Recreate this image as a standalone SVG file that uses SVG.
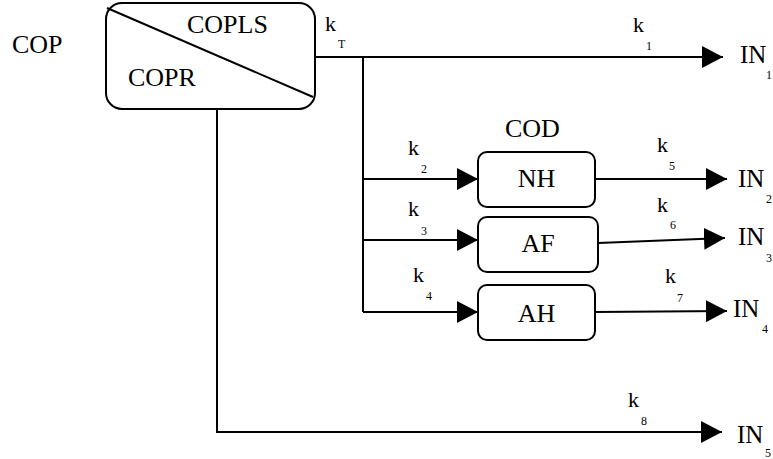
<svg xmlns="http://www.w3.org/2000/svg" width="773" height="459" viewBox="0 0 773 459">
  <style>
    text { font-family: "Liberation Serif", "DejaVu Serif", "Noto Serif", "Times New Roman", serif; fill: #000; }
    .big { font-size: 26px; }
    .in { font-size: 25px; }
    .k { font-size: 22px; }
    .s { font-size: 12px; }
    .box { fill: #fff; stroke: #000; stroke-width: 2; }
    .ln { fill: none; stroke: #000; stroke-width: 2; }
  </style>
  <defs>
    <marker id="arr" viewBox="0 0 21 22" refX="21" refY="11" markerWidth="21" markerHeight="22" markerUnits="userSpaceOnUse" orient="auto">
      <path d="M0,0 L21,11 L0,22 z" fill="#000"/>
    </marker>
  </defs>

  <g id="connectors">
    <path class="ln" d="M315,57 H723" marker-end="url(#arr)"/>
    <path class="ln" d="M363,57 V312"/>
    <path class="ln" d="M363,179 H478" marker-end="url(#arr)"/>
    <path class="ln" d="M363,240 H478" marker-end="url(#arr)"/>
    <path class="ln" d="M363,312 H478" marker-end="url(#arr)"/>
    <path class="ln" d="M595,179 H727" marker-end="url(#arr)"/>
    <path class="ln" d="M598,243 L725,238" marker-end="url(#arr)"/>
    <path class="ln" d="M595,312 L727,311" marker-end="url(#arr)"/>
    <path class="ln" d="M217,109 V432 H722" marker-end="url(#arr)"/>
  </g>

  <g id="cop-label">
    <text class="big" x="12" y="53" font-family="Liberation Serif, serif">COP</text>
  </g>

  <g id="cop">
    <rect class="box" x="106" y="3" width="209" height="106" rx="16"/>
    <line class="ln" x1="107" y1="8" x2="313" y2="97" stroke-width="1.3"/>
    <text class="big" x="187" y="33">COPLS</text>
    <text class="big" x="128" y="86">COPR</text>
  </g>

  <g id="cod-label">
    <text class="big" x="505" y="137">COD</text>
  </g>

  <g id="nh">
    <rect class="box" x="478" y="152" width="117" height="55" rx="9"/>
    <text class="big" x="536.5" y="187" text-anchor="middle">NH</text>
  </g>
  <g id="af">
    <rect class="box" x="478" y="217" width="120" height="55" rx="9"/>
    <text class="big" x="538" y="252" text-anchor="middle">AF</text>
  </g>
  <g id="ah">
    <rect class="box" x="478" y="285" width="117" height="55" rx="9"/>
    <text class="big" x="536.5" y="322" text-anchor="middle">AH</text>
  </g>

  <g id="labels">
    <text class="k" x="325" y="31">k</text><text class="s" x="338" y="48">T</text>
    <text class="k" x="633" y="32">k</text><text class="s" x="646" y="50">1</text>
    <text class="k" x="408" y="155">k</text><text class="s" x="421" y="173">2</text>
    <text class="k" x="408" y="216">k</text><text class="s" x="421" y="235">3</text>
    <text class="k" x="413" y="282">k</text><text class="s" x="426" y="300">4</text>
    <text class="k" x="657" y="152">k</text><text class="s" x="669" y="170">5</text>
    <text class="k" x="657" y="212">k</text><text class="s" x="670" y="229">6</text>
    <text class="k" x="665" y="283">k</text><text class="s" x="677" y="302">7</text>
    <text class="k" x="628" y="407">k</text><text class="s" x="641" y="425">8</text>

    <text class="in" x="740" y="63">IN</text><text class="s" x="766" y="79">1</text>
    <text class="in" x="738" y="187">IN</text><text class="s" x="766" y="203">2</text>
    <text class="in" x="738" y="245">IN</text><text class="s" x="766" y="262">3</text>
    <text class="in" x="733" y="317">IN</text><text class="s" x="762" y="333">4</text>
    <text class="in" x="737" y="443">IN</text><text class="s" x="765" y="457">5</text>
  </g>
</svg>
